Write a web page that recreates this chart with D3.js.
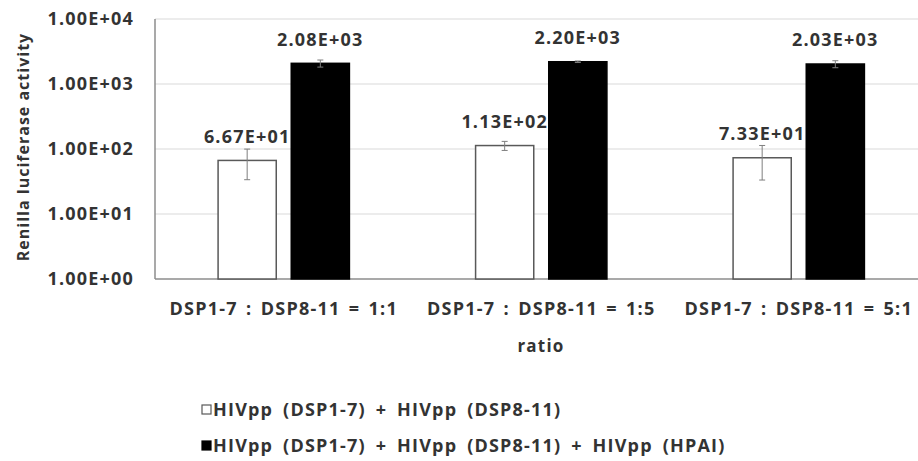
<!DOCTYPE html>
<html>
<head>
<meta charset="utf-8">
<script src="https://cdn.jsdelivr.net/npm/d3@7"></script>
<style>
  body { margin: 0; background: #fff; }
  text { font-family: "Open Sans", sans-serif; font-weight: 700; fill: #333333; }
</style>
</head>
<body>
<div class="chart"></div>
<script>
// data
var categories = ["DSP1-7 : DSP8-11 = 1:1", "DSP1-7 : DSP8-11 = 1:5", "DSP1-7 : DSP8-11 = 5:1"];
var seriesNames = ["HIVpp (DSP1-7) + HIVpp (DSP8-11)", "HIVpp (DSP1-7) + HIVpp (DSP8-11) + HIVpp (HPAI)"];
var whiteValues = [66.7, 113, 73.3];
var whiteErrors = [33, 18, 40];
var blackValues = [2080, 2200, 2030];
var blackErrors = [260, 60, 250];
var valueLabels = [["6.67E+01", "2.08E+03"], ["1.13E+02", "2.20E+03"], ["7.33E+01", "2.03E+03"]];
var yTicks = [1, 10, 100, 1000, 10000];
var yTickLabels = ["1.00E+00", "1.00E+01", "1.00E+02", "1.00E+03", "1.00E+04"];

var view = {
    width: 918,
    height: 461,
    left: 155,
    top: 19,
    bottom: 279,
    init() {
        this.svg = d3.select(".chart")
            .append("svg")
            .attr("width", this.width)
            .attr("height", this.height);

        this.x = d3.scaleBand().domain(categories)
            .range([this.left, 927.5])
            .paddingInner(0.49)
            .paddingOuter(0.245);
        this.xs = d3.scaleBand().domain([0, 1])
            .range([0, this.x.bandwidth()])
            .paddingInner(0.205);
        this.y = d3.scaleLog().domain([1, 10000]).range([this.bottom, this.top]);
    },
    // shared text look: wide-ish bold like the original
    label(sel, size, wordSpace) {
        return sel.style("font-size", size + "px")
            .style("letter-spacing", "1.2px")
            .style("word-spacing", (wordSpace || 2.5) + "px");
    },
    drawGrid() {
        var y = this.y;
        this.svg.append("g").selectAll("line")
            .data(yTicks.slice(1))
            .join("line")
            .attr("x1", this.left).attr("x2", this.width)
            .attr("y1", d => y(d)).attr("y2", d => y(d))
            .attr("stroke", "#d9d9d9").attr("stroke-width", 1);

        //y tick labels
        this.label(this.svg.append("g").selectAll("text")
            .data(yTicks)
            .join("text")
            .attr("x", 134)
            .attr("y", d => y(d))
            .attr("dy", "0.36em")
            .attr("text-anchor", "end"), 18)
            .text((d, i) => yTickLabels[i]);

        //axis lines
        this.svg.append("line")
            .attr("x1", this.left).attr("x2", this.left)
            .attr("y1", this.top).attr("y2", this.bottom)
            .attr("stroke", "#8c8c8c").attr("stroke-width", 1.5);
        this.svg.append("line")
            .attr("x1", this.left).attr("x2", this.width)
            .attr("y1", this.bottom).attr("y2", this.bottom)
            .attr("stroke", "#8c8c8c").attr("stroke-width", 1.5);

        this.svg.append("text")
            .attr("transform", "translate(23," + 147 + ") rotate(-90)")
            .attr("text-anchor", "middle")
            .attr("dy", "0.36em")
            .style("font-size", "16px")
            .style("letter-spacing", "1px")
            .text("Renilla luciferase activity");
    },
    drawBars(rows) {
        var x = this.x, xs = this.xs, y = this.y, bottom = this.bottom;
        var g = this.svg.append("g");

        g.selectAll("rect")
            .data(rows)
            .join("rect")
            .attr("x", d => x(d.cat) + xs(d.s))
            .attr("y", d => y(d.v))
            .attr("width", xs.bandwidth())
            .attr("height", d => bottom - y(d.v))
            .attr("fill", d => d.s === 0 ? "#ffffff" : "#000000")
            .attr("stroke", d => d.s === 0 ? "#595959" : "#000000")
            .attr("stroke-width", 1.5);

        //error bars
        var eb = g.selectAll("g.err").data(rows).join("g").attr("class", "err");
        eb.append("line")
            .attr("x1", d => x(d.cat) + xs(d.s) + xs.bandwidth() / 2)
            .attr("x2", d => x(d.cat) + xs(d.s) + xs.bandwidth() / 2)
            .attr("y1", d => y(d.v + d.e))
            .attr("y2", d => y(d.v - d.e))
            .attr("stroke", "#7f7f7f").attr("stroke-width", 1);
        [1, -1].forEach(function (sign) {
            eb.append("line")
                .attr("x1", d => x(d.cat) + xs(d.s) + xs.bandwidth() / 2 - 3)
                .attr("x2", d => x(d.cat) + xs(d.s) + xs.bandwidth() / 2 + 3)
                .attr("y1", d => y(d.v + sign * d.e))
                .attr("y2", d => y(d.v + sign * d.e))
                .attr("stroke", "#7f7f7f").attr("stroke-width", 1);
        });

        //value labels
        this.label(g.selectAll("text")
            .data(rows)
            .join("text")
            .attr("x", d => x(d.cat) + xs(d.s) + xs.bandwidth() / 2)
            .attr("y", d => y(d.v) - 24)
            .attr("dy", "0.36em")
            .attr("text-anchor", "middle"), 18)
            .text(d => d.label);
    },
    drawXAxis() {
        var x = this.x;
        this.label(this.svg.append("g").selectAll("text")
            .data(categories)
            .join("text")
            .attr("x", d => x(d) + x.bandwidth() / 2)
            .attr("y", 309)
            .attr("dy", "0.36em")
            .attr("text-anchor", "middle"), 18)
            .text(d => d);

        this.label(this.svg.append("text")
            .attr("x", 541).attr("y", 346)
            .attr("dy", "0.36em")
            .attr("text-anchor", "middle"), 17)
            .text("ratio");
    },
    drawLegend() {
        var leg = this.svg.append("g").selectAll("g")
            .data(seriesNames)
            .join("g")
            .attr("transform", (d, i) => "translate(202," + (410 + i * 36) + ")");
        leg.append("rect")
            .attr("x", 0).attr("y", -5)
            .attr("width", 9).attr("height", 9)
            .attr("fill", (d, i) => i === 0 ? "#ffffff" : "#000000")
            .attr("stroke", (d, i) => i === 0 ? "#595959" : "#000000")
            .attr("stroke-width", 1.2);
        this.label(leg.append("text")
            .attr("x", 11)
            .attr("dy", "0.36em"), 18, 4)
            .text(d => d);
    }
};

var controller = {
    init() {
        view.init();
        var rows = [];
        categories.forEach(function (c, i) {
            rows.push({ cat: c, s: 0, v: whiteValues[i], e: whiteErrors[i], label: valueLabels[i][0] });
            rows.push({ cat: c, s: 1, v: blackValues[i], e: blackErrors[i], label: valueLabels[i][1] });
        });
        view.drawGrid();
        view.drawBars(rows);
        view.drawXAxis();
        view.drawLegend();
    }
};

controller.init();
</script>
</body>
</html>
